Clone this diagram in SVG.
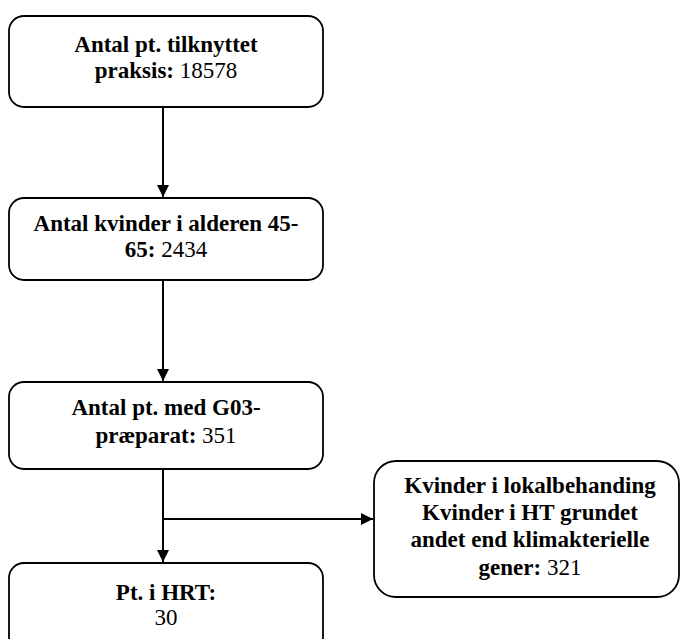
<svg xmlns="http://www.w3.org/2000/svg" width="680" height="639" viewBox="0 0 680 639">
<defs>
<style>
.box{fill:#fff;stroke:#000;stroke-width:1.8}
.t{font-family:"Liberation Serif",Tinos,"Times New Roman",Times,"DejaVu Serif",serif;font-size:23px;fill:#000;text-anchor:middle}
.b{font-weight:bold}
.c{stroke:#000;stroke-width:2;fill:none}
</style>
<marker id="ah" viewBox="0 0 12 12" refX="12" refY="6" markerWidth="12" markerHeight="12" markerUnits="userSpaceOnUse" orient="auto">
<path d="M0,0 L12,6 L0,12 Z" fill="#000"/>
</marker>
</defs>
<rect width="680" height="639" fill="#fff"/>
<g id="connectors">
<line class="c" x1="163" y1="107" x2="163" y2="197" marker-end="url(#ah)"/>
<line class="c" x1="163" y1="280" x2="163" y2="381" marker-end="url(#ah)"/>
<line class="c" x1="163" y1="469" x2="163" y2="562" marker-end="url(#ah)"/>
<line class="c" x1="163" y1="519" x2="373" y2="519" marker-end="url(#ah)"/>
</g>
<g id="node1">
<rect class="box" x="9" y="16" width="314" height="91" rx="15"/>
<text class="t" x="166" y="52"><tspan class="b">Antal pt. tilknyttet</tspan></text>
<text class="t" x="166" y="78"><tspan class="b">praksis:</tspan> 18578</text>
</g>
<g id="node2">
<rect class="box" x="9" y="198" width="314" height="82" rx="15"/>
<text class="t" x="166" y="231"><tspan class="b">Antal kvinder i alderen 45-</tspan></text>
<text class="t" x="166" y="257"><tspan class="b">65:</tspan> 2434</text>
</g>
<g id="node3">
<rect class="box" x="9" y="382" width="314" height="87" rx="15"/>
<text class="t" x="166" y="415"><tspan class="b">Antal pt. med G03-</tspan></text>
<text class="t" x="166" y="443"><tspan class="b">præparat:</tspan> 351</text>
</g>
<g id="node4">
<rect class="box" x="9" y="563" width="314" height="90" rx="15"/>
<text class="t" x="166" y="600"><tspan class="b">Pt. i HRT:</tspan></text>
<text class="t" x="166" y="625">30</text>
</g>
<g id="node5">
<rect class="box" x="374" y="461" width="305" height="136" rx="22"/>
<text class="t" x="530" y="493"><tspan class="b">Kvinder i lokalbehanding</tspan></text>
<text class="t" x="530" y="520"><tspan class="b">Kvinder i HT grundet</tspan></text>
<text class="t" x="530" y="547"><tspan class="b">andet end klimakterielle</tspan></text>
<text class="t" x="530" y="575"><tspan class="b">gener:</tspan> 321</text>
</g>
</svg>
